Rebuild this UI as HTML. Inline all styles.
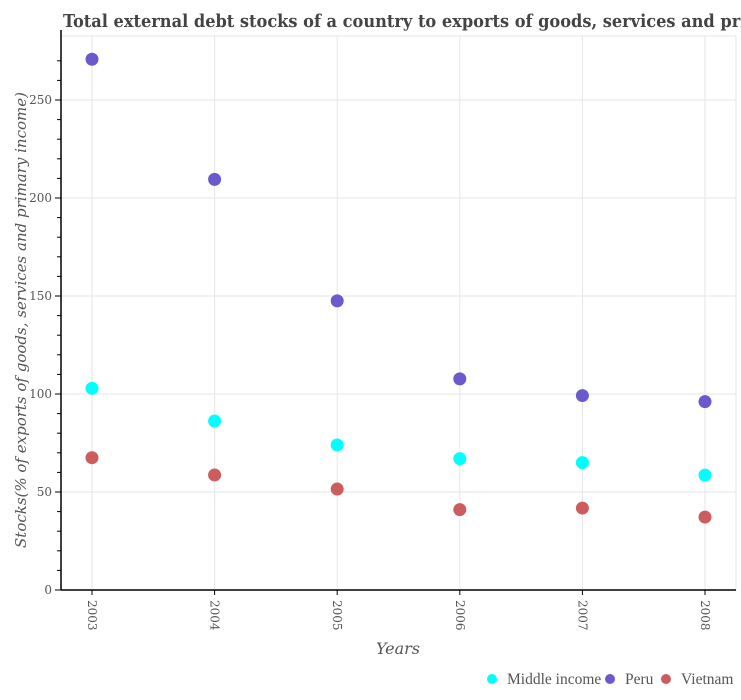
<!DOCTYPE html>
<html><head><meta charset="utf-8"><style>
html,body{margin:0;padding:0;background:#fff;width:741px;height:700px;overflow:hidden}
svg{display:block}
</style></head><body>
<svg id="chart" width="741" height="700" xmlns="http://www.w3.org/2000/svg">
<text x="63" y="27" font-family="DejaVu Serif Condensed, DejaVu Serif, serif" font-weight="bold" font-size="18" fill="#444">Total external debt stocks of a country to exports of goods, services and primary income</text>
<g id="grid"></g>
<g id="axes"></g>
<g id="marks"></g>
<text transform="translate(26,320) rotate(-90)" text-anchor="middle" font-family="DejaVu Serif, serif" font-style="italic" font-size="15" fill="#555">Stocks(% of exports of goods, services and primary income)</text>
<text x="398" y="654" text-anchor="middle" font-family="DejaVu Serif, serif" font-style="italic" font-size="16" fill="#555">Years</text>
<g id="legend"></g>
</svg>
<script>
const years = ['2003','2004','2005','2006','2007','2008'];
const middleIncome = [102.9, 86.2, 74.0, 67.0, 65.0, 58.6];
const peru = [270.8, 209.5, 147.5, 107.7, 99.2, 96.1];
const vietnam = [67.5, 58.7, 51.5, 41.0, 41.8, 37.2];
const yTicks = [0, 50, 100, 150, 200, 250];
const seriesNames = ['Middle income', 'Peru', 'Vietnam'];
const seriesColors = ['#00ffff', '#6a5acd', '#cd5c5c'];

const NS = 'http://www.w3.org/2000/svg';
const L = 61, R = 736, T = 36, B = 590;
const x = i => 92 + i * 122.6;
const y = v => B - v * 1.96;
function mk(tag, attrs, parent) {
  const e = document.createElementNS(NS, tag);
  for (const k in attrs) e.setAttribute(k, attrs[k]);
  parent.appendChild(e);
  return e;
}
const grid = document.getElementById('grid'), axes = document.getElementById('axes'),
      marks = document.getElementById('marks'), legend = document.getElementById('legend');
const frame = mk('rect', {x: L, y: T, width: R - L, height: B - T, fill: 'none', stroke: '#e6e6e6'}, grid);


years.forEach((yr, i) => {
  const g = mk('line', {x1: x(i), x2: x(i), y1: T, y2: B, stroke: '#e6e6e6'}, grid);
  
  
  mk('line', {x1: x(i), x2: x(i), y1: B, y2: B + 5, stroke: '#000'}, axes);
  const t = mk('text', {transform: `translate(${x(i) - 4},${B + 10}) rotate(90)`, 'font-family': 'DejaVu Serif, serif', 'font-size': '12', fill: '#555'}, axes);
  t.textContent = yr;
  
  
});
for (let v = 0; v <= 270; v += 10) {
  mk('line', {x1: L - (v % 50 === 0 ? 6 : 4), x2: L, y1: y(v), y2: y(v), stroke: '#000'}, axes);
}
yTicks.forEach(v => {
  const g = mk('line', {x1: L, x2: R, y1: y(v), y2: y(v), stroke: '#e6e6e6'}, grid);
  
  
  const t = mk('text', {x: L - 9, y: y(v) + 4, 'text-anchor': 'end', 'font-family': 'DejaVu Serif, serif', 'font-size': '12', fill: '#555'}, axes);
  t.textContent = v;
  
  
});
mk('line', {x1: L, x2: L, y1: T - 6, y2: B, stroke: '#000', 'stroke-width': 1.5}, axes);
mk('line', {x1: L, x2: R, y1: B, y2: B, stroke: '#000', 'stroke-width': 1.5}, axes);
[middleIncome, peru, vietnam].forEach((arr, s) => {
  arr.forEach((v, i) => {
    const c = mk('circle', {cx: x(i), cy: y(v), r: 6.5, fill: seriesColors[s]}, marks);
    
    
  });
});
const lx = [492, 610, 666];
seriesNames.forEach((n, s) => {
  const c = mk('circle', {cx: lx[s], cy: 679, r: 5, fill: seriesColors[s]}, legend);
  
  
  const t = mk('text', {x: lx[s] + 15, y: 684, 'font-family': 'Liberation Serif, serif', 'font-size': '15.5', fill: '#555'}, legend);
  t.textContent = n;
  
  
});
</script>
</body></html>
